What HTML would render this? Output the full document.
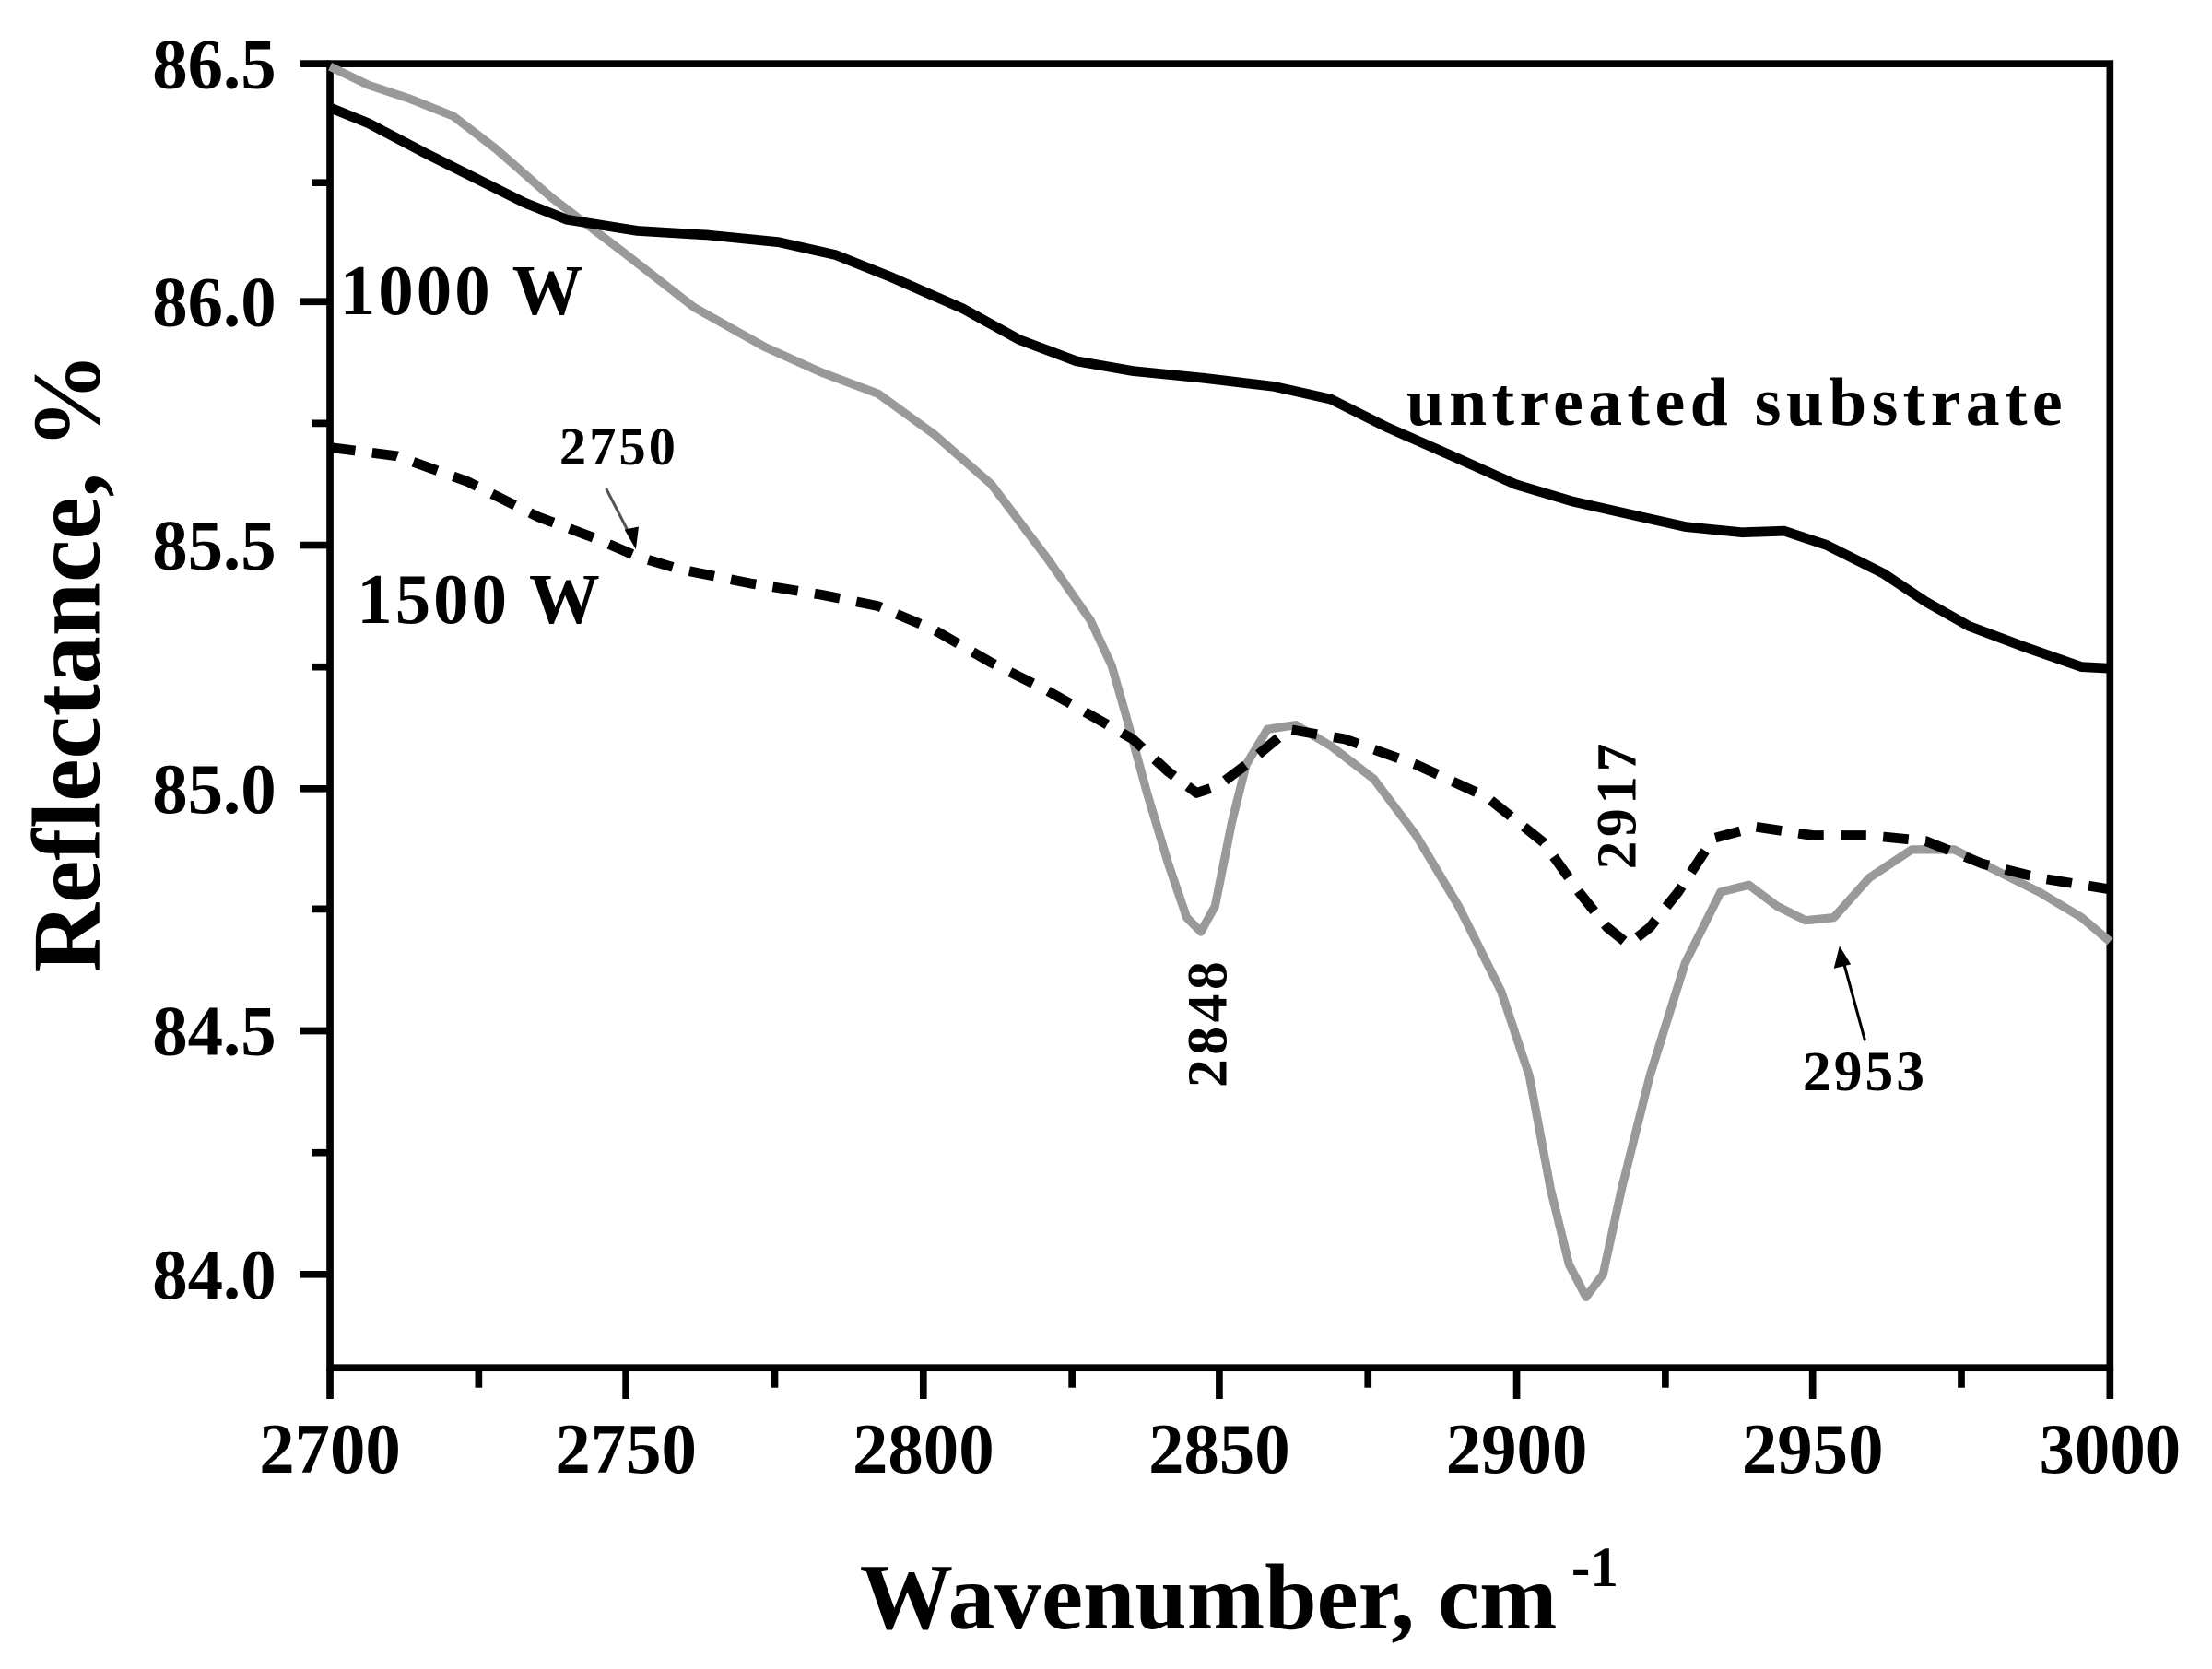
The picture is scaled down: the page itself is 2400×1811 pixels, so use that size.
<!DOCTYPE html>
<html><head><meta charset="utf-8"><style>
html,body{margin:0;padding:0;background:#fff;}
svg{display:block;}
text{font-family:"Liberation Serif",serif;font-weight:bold;fill:#000;}
</style></head><body>
<svg width="2400" height="1811" viewBox="0 0 1562 1178.7" xmlns="http://www.w3.org/2000/svg">
<rect x="0" y="0" width="1562" height="1178.7" fill="#fff"/>
<rect x="233" y="45" width="1257" height="921" fill="none" stroke="#000" stroke-width="5"/>
<g stroke="#000" stroke-width="5">
<line x1="212" y1="45" x2="233" y2="45"/>
<line x1="220" y1="129" x2="233" y2="129"/>
<line x1="212" y1="213" x2="233" y2="213"/>
<line x1="220" y1="299" x2="233" y2="299"/>
<line x1="212" y1="385" x2="233" y2="385"/>
<line x1="220" y1="471" x2="233" y2="471"/>
<line x1="212" y1="557" x2="233" y2="557"/>
<line x1="220" y1="642" x2="233" y2="642"/>
<line x1="212" y1="728" x2="233" y2="728"/>
<line x1="220" y1="814" x2="233" y2="814"/>
<line x1="212" y1="900" x2="233" y2="900"/>
<line x1="233" y1="966" x2="233" y2="988"/>
<line x1="338" y1="966" x2="338" y2="980"/>
<line x1="442" y1="966" x2="442" y2="988"/>
<line x1="547" y1="966" x2="547" y2="980"/>
<line x1="652" y1="966" x2="652" y2="988"/>
<line x1="757" y1="966" x2="757" y2="980"/>
<line x1="861" y1="966" x2="861" y2="988"/>
<line x1="966" y1="966" x2="966" y2="980"/>
<line x1="1071" y1="966" x2="1071" y2="988"/>
<line x1="1176" y1="966" x2="1176" y2="980"/>
<line x1="1280" y1="966" x2="1280" y2="988"/>
<line x1="1385" y1="966" x2="1385" y2="980"/>
<line x1="1490" y1="966" x2="1490" y2="988"/>
</g>
<g font-size="50" text-anchor="end">
<text x="195" y="62">86.5</text>
<text x="195" y="230">86.0</text>
<text x="195" y="402">85.5</text>
<text x="195" y="574">85.0</text>
<text x="195" y="745">84.5</text>
<text x="195" y="917">84.0</text>
</g>
<g font-size="50" text-anchor="middle">
<text x="233" y="1040">2700</text>
<text x="442" y="1040">2750</text>
<text x="652" y="1040">2800</text>
<text x="861" y="1040">2850</text>
<text x="1071" y="1040">2900</text>
<text x="1280" y="1040">2950</text>
<text x="1490" y="1040">3000</text>
</g>
<text x="70" y="468" font-size="68" text-anchor="middle" transform="rotate(-90 70 468)">Reflectance, %</text>
<text x="875" y="1150" font-size="66" text-anchor="middle">Wavenumber, cm<tspan font-size="40" dy="-30"> -1</tspan></text>
<polyline fill="none" stroke="#999" stroke-width="6" stroke-linejoin="round" points="233,47 260,60 290,70 320,82 350,105 390,140 440,178 490,217 540,245 580,263 620,278 660,307 700,342 740,395 770,438 785,470 795,505 810,560 825,610 838,648 848,658 858,640 870,580 880,540 895,515 915,512 940,527 970,550 1000,590 1030,640 1060,700 1080,760 1095,840 1108,893 1120,916 1132,900 1145,840 1165,760 1190,680 1215,630 1235,625 1255,640 1275,650 1295,648 1320,620 1350,600 1380,600 1410,615 1440,630 1470,648 1490,665"/>
<polyline fill="none" stroke="#000" stroke-width="7" stroke-linejoin="round" points="233,76 260,87 300,108 340,128 370,143 400,155 450,163 500,166 550,171 590,180 630,196 680,218 720,240 760,255 800,262 850,267 900,273 940,282 980,302 1030,324 1070,342 1110,354 1150,363 1190,372 1230,376 1260,375 1290,385 1330,405 1360,425 1390,442 1430,457 1470,471 1490,472"/>
<polyline fill="none" stroke="#000" stroke-width="7" stroke-dasharray="18,12" stroke-linejoin="round" points="233,316 280,322 330,340 380,365 420,380 450,393 480,402 530,412 580,420 620,428 660,445 700,468 740,488 770,505 800,522 825,545 845,560 860,555 880,540 910,515 950,522 1000,540 1050,563 1090,595 1115,630 1135,655 1150,667 1165,655 1185,630 1210,592 1240,584 1280,590 1320,590 1360,594 1400,610 1440,620 1490,628"/>
<text x="240" y="222" font-size="50" letter-spacing="2">1000 W</text>
<text x="252" y="440" font-size="50" letter-spacing="2">1500 W</text>
<text x="993" y="300" font-size="48" letter-spacing="3.5">untreated substrate</text>
<text x="395" y="328" font-size="38" letter-spacing="2">2750</text>
<line x1="428" y1="345" x2="447" y2="382" stroke="#555" stroke-width="2"/>
<polygon points="449,388 441,374 451,372" fill="#000"/>
<text x="866" y="722" font-size="40" letter-spacing="3" text-anchor="middle" transform="rotate(-90 866 722)">2848</text>
<text x="1155" y="568" font-size="40" letter-spacing="3" text-anchor="middle" transform="rotate(-90 1155 568)">2917</text>
<text x="1273" y="770" font-size="40" letter-spacing="2">2953</text>
<line x1="1317" y1="735" x2="1302" y2="680" stroke="#000" stroke-width="2"/>
<polygon points="1299,668 1295,684 1307,681" fill="#000"/>
</svg>
</body></html>
